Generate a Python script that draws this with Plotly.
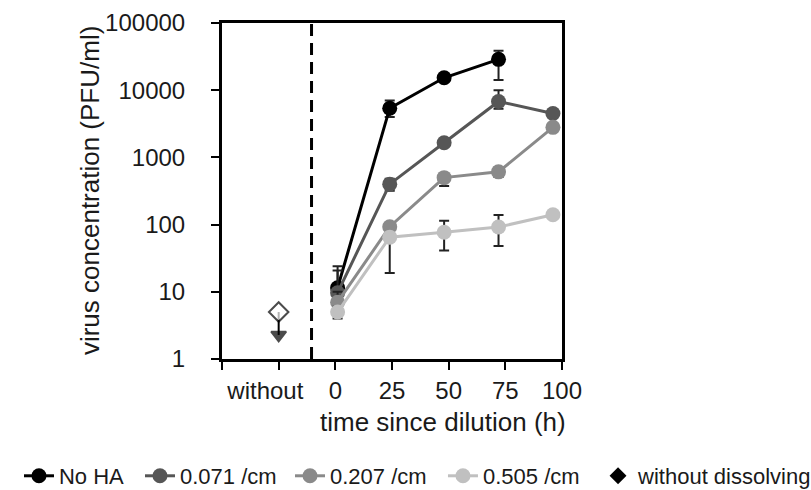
import plotly.graph_objects as go

# ---- data ----
times = [1, 24, 48, 72, 96]
times_noha = [1, 24, 48, 72]

noha = [11.5, 5400, 15300, 28800]
noha_plus = [12.5, 1600, 700, 9800]
noha_minus = [3, 1400, 700, 14600]

c071 = [9.7, 400, 1650, 6800, 4500]
c071_plus = [11, 80, 150, 3200, 400]
c071_minus = [3, 80, 150, 1500, 400]

c207 = [7, 93, 500, 610, 2800]
c207_plus = [3, 10, 50, 100, 300]
c207_minus = [2, 10, 125, 100, 300]

c505 = [5, 65, 77, 92, 140]
c505_plus = [1, 10, 37, 47, 10]
c505_minus = [1, 46, 36, 44, 10]

without_x = [-25, -25]
without_y = [5, 2.28]   # detection value and "below" arrow tip

x_tickvals = [-50, -25, 0, 25, 50, 75, 100]
x_ticktext = ["", "without\u00a0\u00a0\u00a0\u00a0", "0", "25", "50", "75", "100"]
y_tickvals = [1, 10, 100, 1000, 10000, 100000]
y_ticktext = ["1", "10", "100", "1000", "10000", "100000"]

series = [
    ("No HA", times_noha, noha, noha_plus, noha_minus, "#000000"),
    ("0.071 /cm", times, c071, c071_plus, c071_minus, "#565656"),
    ("0.207 /cm", times, c207, c207_plus, c207_minus, "#8a8a8a"),
    ("0.505 /cm", times, c505, c505_plus, c505_minus, "#c0c0c0"),
]
legend_ids = ["legend", "legend2", "legend3", "legend4", "legend5"]
legend_x = [0.0234, 0.1726, 0.3576, 0.5462, 0.7374]

FONT = "Liberation Sans, Arial, sans-serif"
TXT = "#1a1a1a"

fig = go.Figure()

for (name, xs, ys, ep, em, col), lg in zip(series, legend_ids):
    fig.add_trace(go.Scatter(
        x=xs, y=ys, name=name, mode="lines+markers", legend=lg,
        line=dict(color=col, width=3),
        marker=dict(color=col, size=15, symbol="circle"),
        error_y=dict(type="data", symmetric=False, array=ep, arrayminus=em,
                     color="#222222", thickness=2, width=5),
    ))

# without dissolving point (below detection) with arrow
fig.add_trace(go.Scatter(
    x=without_x, y=without_y, mode="lines+markers", showlegend=False,
    line=dict(color="black", width=2),
    marker=dict(symbol=["diamond", "triangle-down"], size=[15, 13],
                color=["white", "black"], line=dict(color="black", width=2)),
))
# legend entry for without dissolving
fig.add_trace(go.Scatter(
    x=[None], y=[None], mode="markers", name="without dissolving", legend="legend5",
    marker=dict(symbol="diamond", size=13, color="black"),
))

fig.add_shape(type="line", xref="x", yref="paper", x0=-10.5, x1=-10.5, y0=0, y1=1,
              line=dict(color="black", width=3, dash="12px,7px"))

fig.add_annotation(text="time since dilution (h)", xref="x", yref="paper",
                   x=47.5, y=0, yanchor="top", yshift=-46, showarrow=False,
                   font=dict(family=FONT, size=26, color=TXT))
fig.add_annotation(text="virus concentration (PFU/ml)", xref="paper", yref="paper",
                   x=-0.388, y=0.5, xanchor="center", yanchor="middle", textangle=-90,
                   showarrow=False, font=dict(family=FONT, size=26, color=TXT))

fig.update_xaxes(range=[-50, 100], tickvals=x_tickvals, ticktext=x_ticktext,
                 showline=True, linecolor="black", linewidth=3, mirror=True,
                 ticks="outside", ticklen=8, tickwidth=2, tickcolor="black",
                 showgrid=False, zeroline=False, tickangle=0, automargin=False,
                 tickfont=dict(family=FONT, size=24, color=TXT))
fig.update_yaxes(type="log", range=[0, 5], tickvals=y_tickvals, ticktext=y_ticktext,
                 showline=True, linecolor="black", linewidth=3, mirror=True,
                 ticks="outside", ticklen=8, tickwidth=2, tickcolor="black",
                 showgrid=False, zeroline=False, ticklabelstandoff=21, automargin=False,
                 tickfont=dict(family=FONT, size=24, color=TXT))

legend_common = dict(orientation="h", xref="container", yref="container",
                     xanchor="left", y=0.0286, yanchor="middle",
                     font=dict(family=FONT, size=22, color=TXT),
                     bgcolor="rgba(0,0,0,0)", itemwidth=30)
layout_legends = {lg: dict(legend_common, x=lx) for lg, lx in zip(legend_ids, legend_x)}

fig.update_layout(
    width=811, height=490,
    margin=dict(l=222, r=249, t=23, b=131, autoexpand=False),
    paper_bgcolor="white", plot_bgcolor="white",
    font=dict(family=FONT, color=TXT),
    **layout_legends,
)

fig.write_html("out.html", config={"displayModeBar": False},
               post_script="document.body.style.margin='0px';")
